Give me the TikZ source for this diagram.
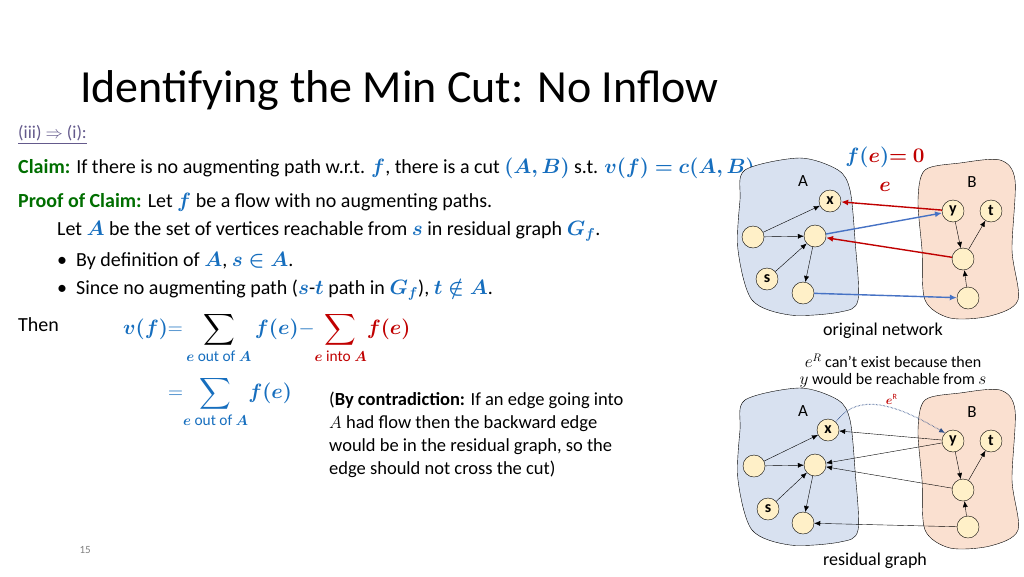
\documentclass[tikz,border=0pt]{standalone}
\usepackage{amsmath, amssymb}
\usepackage{bm}
\usepackage{fontspec}
\setmainfont{Carlito}
\usetikzlibrary{arrows.meta, positioning}
\definecolor{mathBlue}{RGB}{22,110,190}
\definecolor{mathRed}{RGB}{192,0,0}
\definecolor{claimGreen}{RGB}{0,110,0}
\definecolor{headGray}{RGB}{100,90,140}
\definecolor{blobA}{RGB}{216,225,240}
\definecolor{blobB}{RGB}{250,224,208}
\definecolor{vtxFill}{RGB}{255,240,200}
\definecolor{edgeBlue}{RGB}{70,114,196}
\newcommand{\bb}[1]{\textcolor{mathBlue}{\bm{#1}}}
\newcommand{\rr}[1]{\textcolor{mathRed}{\bm{#1}}}
\begin{document}
\begin{tikzpicture}[x=1pt, y=-1pt,
    vtx/.style={circle, draw=black, fill=vtxFill, inner sep=0pt, minimum size=22pt, font=\fontsize{16}{16}\selectfont\bfseries},
    arc/.style={-{Latex[length=6pt,width=5pt]}, thin},
    redArc/.style={-{Latex[length=7pt,width=6pt]}, draw=mathRed, line width=1.4pt},
    blueArc/.style={-{Latex[length=7pt,width=6pt]}, draw=edgeBlue, line width=1.4pt},
    txt/.style={anchor=west, inner sep=0pt, font=\fontsize{20}{24}\selectfont}]
    \useasboundingbox (0,0) rectangle (1024,576);
    % title and text
    \node[anchor=base west, inner sep=0pt, font=\fontsize{46}{46}\selectfont] (title) at (80,102) {Identifying the Min Cut: No Inflow};
    \node[txt, text=headGray, font=\fontsize{18}{18}\selectfont] (iii) at (18,135) {\underline{(iii) $\Rightarrow$ (i):}};
    \node[txt] (claim) at (18,168) {\textcolor{claimGreen}{\textbf{Claim:}} If there is no augmenting path w.r.t. $\bb{f}$, there is a cut $\bb{(A,B)}$ s.t. $\bb{v(f)=c(A,B)}$.};
    \node[txt] (proof) at (18,202) {\textcolor{claimGreen}{\textbf{Proof of Claim:}} Let $\bb{f}$ be a flow with no augmenting paths.};
    \node[txt] (letA) at (57,231) {Let $\bb{A}$ be the set of vertices reachable from $\bb{s}$ in residual graph $\bb{G_f}$.};
    \node[txt] (bul1) at (57,261) {\textbullet\ \ By definition of $\bb{A}$, $\bb{s\in A}$.};
    \node[txt] (bul2) at (57,290) {\textbullet\ \ Since no augmenting path ($\bb{s}$-$\bb{t}$ path in $\bb{G_f}$), $\bb{t\notin A}$.};
    \node[txt] (then) at (18,325) {Then};
    \node[txt, anchor=north west, font=\fontsize{22}{26}\selectfont] (eq1) at (123,312) {$\displaystyle \bb{v(f)} \textcolor{mathBlue}{=} \sum_{\textcolor{mathBlue}{\bm{e}\text{ out of }\bm{A}}} \bb{f(e)} \textcolor{mathBlue}{-} \textcolor{mathRed}{\sum_{\bm{e}\text{ into }\bm{A}}} \rr{f(e)}$};
    \node[txt, anchor=north west, font=\fontsize{22}{26}\selectfont] (eq2) at (168,376) {$\displaystyle \textcolor{mathBlue}{=} \textcolor{mathBlue}{\sum_{\bm{e}\text{ out of }\bm{A}}} \bb{f(e)}$};
    \node[txt, anchor=north west, align=left, font=\fontsize{18.5}{23}\selectfont] (contra) at (329,392) {(\textbf{By contradiction:} If an edge going into\\$A$ had flow then the backward edge\\would be in the residual graph, so the\\edge should not cross the cut)};
    \node[anchor=base west, text=gray, font=\fontsize{11}{11}\selectfont] (pnum) at (76,553) {15};
    % original network
    \fill[blobA, draw=black] plot[smooth cycle] coordinates {(745,170) (800,158) (838,170) (850,190) (855,240) (858,300) (840,312) (790,315) (752,300) (738,250) (740,200)};
    \fill[blobB, draw=black] plot[smooth cycle] coordinates {(925,170) (960,163) (1000,160) (1015,180) (1012,250) (1018,300) (990,316) (950,318) (925,300) (922,250) (918,200)};
    \node (A1) at (803,181) {\fontsize{17}{17}\selectfont A};
    \node (B1) at (972,182) {\fontsize{17}{17}\selectfont B};
    \node[font=\fontsize{20}{20}\selectfont] (fe) at (885,157) {$\bb{f(}\rr{e}\bb{)} \rr{=0}$};
    \node[font=\fontsize{20}{20}\selectfont] (elab) at (885,187) {$\rr{e}$};
    \node[vtx] (x1) at (830,201) {x};
    \node[vtx] (y1) at (953,211) {y};
    \node[vtx] (t1) at (991,211) {t};
    \node[vtx] (l1) at (753,237) {};
    \node[vtx] (m1) at (815,236) {};
    \node[vtx] (s1) at (767,279) {s};
    \node[vtx] (a1) at (803,293) {};
    \node[vtx] (c1) at (963,259) {};
    \node[vtx] (b1) at (968,298) {};
    \foreach \u/\v in {l1/x1, l1/m1, s1/m1, m1/a1, y1/c1, c1/t1, b1/c1}
        \draw[arc] (\u) -- (\v);
    \draw[redArc] (y1) -- (x1);
    \draw[redArc] (c1) -- (m1);
    \draw[blueArc] (m1) -- (y1);
    \draw[blueArc] (a1) -- (b1);
    \node[font=\fontsize{18}{18}\selectfont] (orig) at (883,331) {original network};
    \node[font=\fontsize{16}{16}\selectfont] (why1) at (893,361) {$e^R$ can't exist because then};
    \node[font=\fontsize{16}{16}\selectfont] (why2) at (893,381) {$y$ would be reachable from $s$};
    % residual graph
    \fill[blobA, draw=black] plot[smooth cycle] coordinates {(745,400) (800,388) (838,400) (850,420) (855,470) (858,530) (840,542) (790,545) (752,530) (738,480) (740,430)};
    \fill[blobB, draw=black] plot[smooth cycle] coordinates {(925,400) (960,393) (1000,390) (1015,410) (1012,480) (1018,530) (990,546) (950,548) (925,530) (922,480) (918,430)};
    \node (A2) at (803,411) {\fontsize{17}{17}\selectfont A};
    \node (B2) at (972,412) {\fontsize{17}{17}\selectfont B};
    \node[vtx] (x2) at (828,430) {x};
    \node[vtx] (y2) at (953,441) {y};
    \node[vtx] (t2) at (991,441) {t};
    \node[vtx] (l2) at (754,466) {};
    \node[vtx] (m2) at (815,465) {};
    \node[vtx] (s2) at (768,509) {s};
    \node[vtx] (a2) at (803,523) {};
    \node[vtx] (c2) at (963,490) {};
    \node[vtx] (b2) at (968,527) {};
    \foreach \u/\v in {l2/x2, l2/m2, s2/m2, m2/a2, y2/c2, c2/t2, b2/c2, y2/x2, y2/m2, c2/m2, b2/a2}
        \draw[arc] (\u) -- (\v);
    \draw[arc, densely dotted, draw=edgeBlue!70!black, line width=1pt] (x2.north east) to[out=55, in=150] node[above, pos=0.55, text=mathRed, font=\fontsize{12}{12}\selectfont] (eR) {$\bm{e}^{\mathrm{R}}$} (y2.north west);
    \node[font=\fontsize{18}{18}\selectfont] (resid) at (875,561) {residual graph};
\end{tikzpicture}
\end{document}
